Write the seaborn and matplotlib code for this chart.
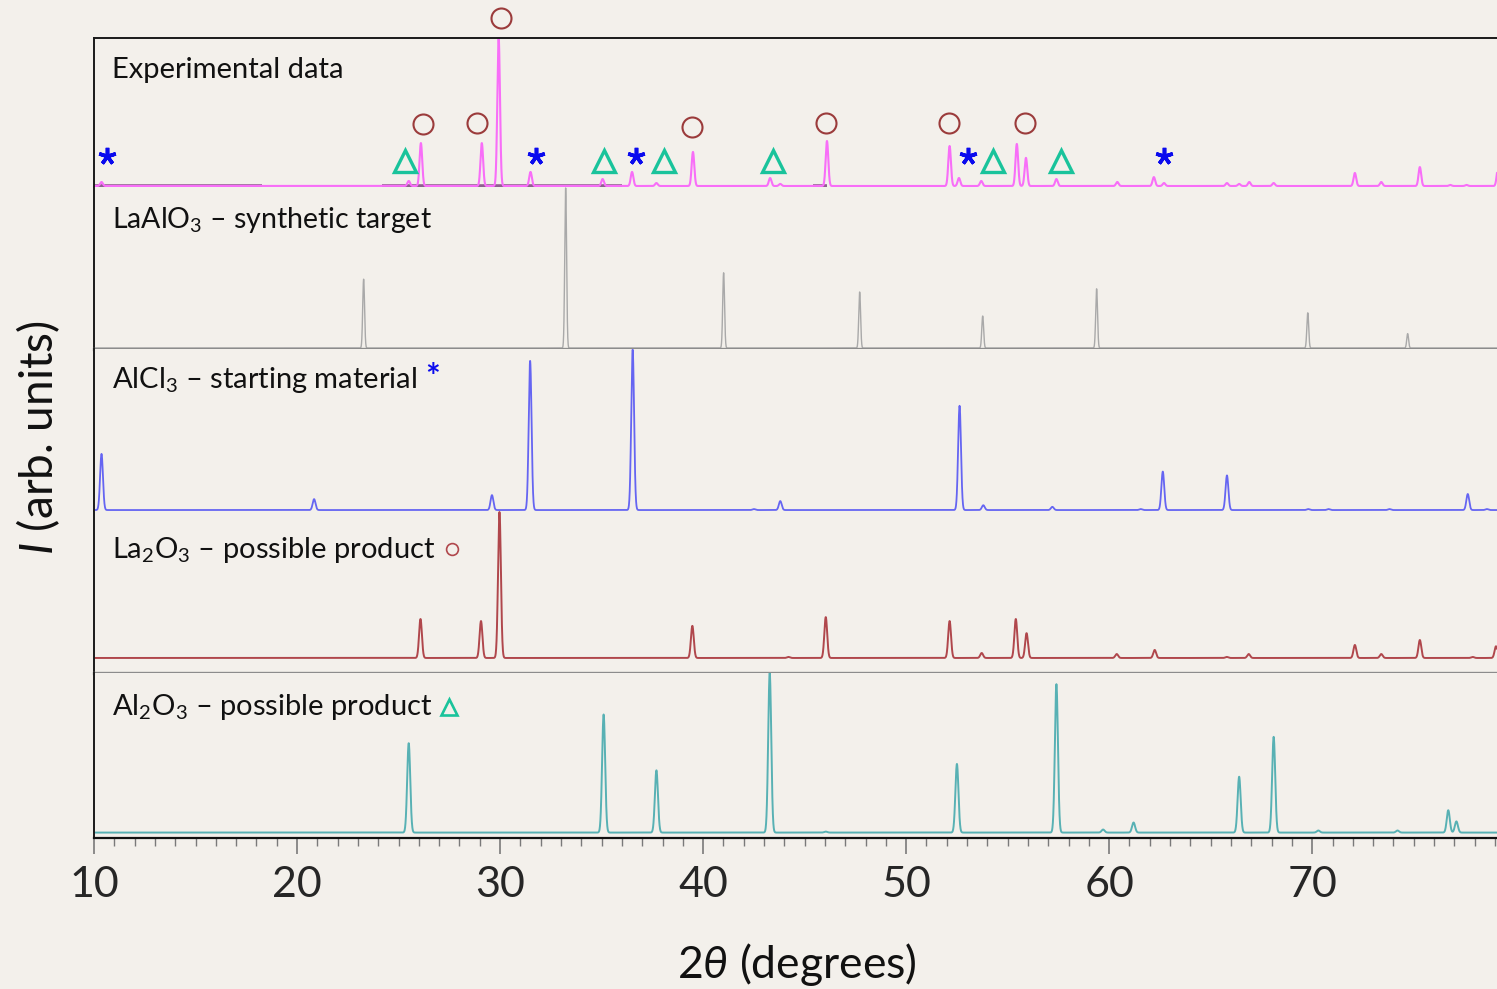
import numpy as np
import pandas as pd
import matplotlib
matplotlib.use("Agg")
import matplotlib.pyplot as plt
from matplotlib.ticker import MultipleLocator
import seaborn as sns

# ---------------- peak lists: 2θ position (deg) and relative intensity (%) ----------------
exp_pos = [10.37, 25.5, 26.1, 29.1, 29.93, 31.5, 35.05, 36.5, 37.7, 39.5, 43.3, 43.8,
           46.1, 52.14, 52.6, 53.7, 55.45, 55.9, 57.4, 60.4, 62.2, 62.7, 65.8, 66.4,
           66.9, 68.1, 72.1, 73.4, 75.3, 76.8, 77.6, 79.15]
exp_int = [2.7, 3.4, 29.0, 29.0, 100.0, 9.5, 4.7, 9.5, 2.0, 23.0, 5.4, 1.4,
           30.4, 27.0, 5.4, 3.4, 28.4, 19.0, 4.7, 2.7, 6.0, 2.0, 2.0, 1.4,
           2.7, 2.0, 8.8, 2.7, 12.8, 0.7, 0.7, 12.0]

lao_pos = [23.28, 33.23, 41.01, 47.71, 53.77, 59.38, 69.78, 74.7]
lao_int = [43.0, 100.0, 47.0, 35.0, 20.0, 37.0, 22.0, 9.0]

alcl_pos = [10.37, 20.84, 29.6, 31.48, 36.53, 42.5, 43.8, 52.63, 53.8, 57.2, 61.55,
            62.64, 65.8, 69.8, 70.8, 73.8, 77.66, 78.6]
alcl_int = [35.0, 6.8, 9.3, 93.0, 100.0, 0.6, 5.6, 65.0, 3.0, 2.0, 0.6,
            24.0, 21.6, 0.6, 0.6, 0.6, 10.0, 0.6]

la2o3_pos = [26.08, 29.06, 29.97, 39.47, 44.2, 46.04, 52.14, 53.72, 55.4, 55.93, 60.37,
             62.24, 65.79, 66.87, 72.1, 73.4, 75.3, 77.9, 79.05]
la2o3_int = [26.7, 25.3, 100.0, 22.0, 0.7, 28.0, 25.3, 3.4, 26.7, 17.0, 2.7,
             5.5, 0.7, 2.7, 8.9, 2.7, 12.3, 0.7, 8.0]

al2o3_pos = [25.5, 35.1, 37.7, 43.28, 46.04, 52.5, 57.4, 59.7, 61.2, 66.4, 68.1,
             70.3, 74.2, 76.7, 77.1]
al2o3_int = [56.0, 74.0, 39.0, 100.0, 0.6, 43.0, 93.0, 1.9, 6.3, 35.0, 60.0,
             1.3, 1.3, 14.0, 7.0]

# phase markers placed above the experimental peaks (2θ, height in exp-panel units)
circle_x = [26.18, 28.84, 30.07, 39.43, 46.03, 52.09, 55.84]
circle_y = [41.9, 42.6, 113.5, 39.9, 42.6, 42.6, 42.6]
star_x = [10.62, 31.75, 36.67, 53.03, 62.69]
star_y = [20.3, 20.3, 20.3, 20.3, 20.3]
tri_x = [25.30, 35.10, 38.05, 43.42, 54.30, 57.65]
tri_y = [16.9, 16.9, 16.9, 16.9, 16.9, 16.9]

# darker stretches of the measured baseline
exp_base_segments = [(10.0, 18.25), (24.2, 36.0), (45.4, 46.1)]

panel_labels = ["Experimental data",
                "LaAlO$_3$ – synthetic target",
                "AlCl$_3$ – starting material",
                "La$_2$O$_3$ – possible product",
                "Al$_2$O$_3$ – possible product"]

x_ticks = [10, 20, 30, 40, 50, 60, 70]

# ---------------- style ----------------
BG = "#f3f0eb"
sns.set_theme(style="white")
plt.rcParams["font.family"] = ["Lato", "DejaVu Sans"]
plt.rcParams["mathtext.fontset"] = "custom"
plt.rcParams["mathtext.rm"] = "Lato"
plt.rcParams["mathtext.it"] = "Lato:italic"
plt.rcParams["mathtext.bf"] = "Lato:bold"
plt.rcParams["mathtext.default"] = "regular"
plt.rcParams["mathtext.fallback"] = "stixsans"
plt.rcParams["axes.facecolor"] = BG
plt.rcParams["figure.facecolor"] = BG

grid = np.arange(10.0, 79.25, 0.005)


def profile(pos, inten, sigma):
    y = np.zeros_like(grid)
    for p, a in zip(pos, inten):
        y += a * np.exp(-0.5 * ((grid - p) / sigma) ** 2)
    return pd.DataFrame({"two_theta": grid, "intensity": y})


patterns = [
    (profile(exp_pos, exp_int, 0.065), "#f86ef8", 1.5),
    (profile(lao_pos, lao_int, 0.045), "#a9a9a9", 1.0),
    (profile(alcl_pos, alcl_int, 0.07), "#6565f2", 1.3),
    (profile(la2o3_pos, la2o3_int, 0.07), "#b0474c", 1.4),
    (profile(al2o3_pos, al2o3_int, 0.075), "#58b1b4", 1.4),
]

W, H = 1497, 989
fig = plt.figure(figsize=(W / 100, H / 100), dpi=100)
gs = fig.add_gridspec(5, 1, height_ratios=[149, 162, 162, 162, 165], hspace=0,
                      left=94 / W, right=1.0, top=1 - 38 / H, bottom=1 - 838 / H)
axes = [fig.add_subplot(gs[i]) for i in range(5)]

ylims = [(-0.68, 100.0), (-0.6, 100.6), (-0.6, 100.4), (-10.3, 100.7), (-3.4, 100.0)]

for ax, (df, col, lw), yl in zip(axes, patterns, ylims):
    ax.set_facecolor(BG)
    if ax is axes[0]:
        for a, b in exp_base_segments:
            ax.hlines(0, a, b, color="#8f5f8f", lw=2.6, zorder=1)
    sns.lineplot(data=df, x="two_theta", y="intensity", ax=ax, color=col, lw=lw,
                 estimator=None, errorbar=None, sort=False, zorder=2)
    ax.set_xlim(10, 79.1)
    ax.set_ylim(*yl)
    ax.set_xlabel("")
    ax.set_ylabel("")
    ax.set_yticks([])
    ax.grid(False)
    for s in ("top", "right", "bottom"):
        ax.spines[s].set_visible(False)
    ax.spines["left"].set_visible(True)
    ax.spines["left"].set_color("#1a1a1a")
    ax.spines["left"].set_linewidth(1.4)
    ax.tick_params(axis="x", which="both", bottom=False, labelbottom=False)

# outer frame
axes[0].spines["top"].set_visible(True)
axes[0].spines["top"].set_color("#1a1a1a")
axes[0].spines["top"].set_linewidth(1.4)
for i in (1, 3):
    axes[i].spines["bottom"].set_visible(True)
    axes[i].spines["bottom"].set_color("#8c8c8c")
    axes[i].spines["bottom"].set_linewidth(2.4)
axb = axes[4]
axb.spines["bottom"].set_visible(True)
axb.spines["bottom"].set_color("#111111")
axb.spines["bottom"].set_linewidth(1.6)
axb.set_xticks(x_ticks)
axb.set_xticklabels([str(t) for t in x_ticks])
axb.xaxis.set_minor_locator(MultipleLocator(1))
axb.tick_params(axis="x", which="both", bottom=True, labelbottom=True, direction="out",
                color="#7a7a7a")
axb.tick_params(axis="x", which="major", length=11.5, width=1.2, labelsize=31, pad=9)
axb.tick_params(axis="x", which="minor", length=6, width=1.0)

# phase markers over the measured pattern
ax0 = axes[0]
ax0.plot(circle_x, circle_y, ls="none", marker="o", ms=14.4, mfc="none", mec="#9b3b3b",
         mew=1.5, clip_on=False, zorder=5)
ax0.plot(star_x, star_y, ls="none", marker=(5, 2, 0), ms=12.5, mec="#0a0aee", mfc="#0a0aee",
         mew=2.6, clip_on=False, zorder=5)
ax0.plot(tri_x, tri_y, ls="none", marker="^", ms=16.5, mfc="none", mec="#19c39b",
         mew=2.4, clip_on=False, zorder=5)

# panel titles
label_y = [0.7315, 0.747, 0.759, 0.71, 0.745]
label_sizes = [21, 20.5, 21, 21, 21]
label_artists = []
for ax, txt, ly, fs in zip(axes, panel_labels, label_y, label_sizes):
    t = ax.text(18 / 1403, ly, txt, transform=ax.transAxes, fontsize=fs,
                ha="left", va="baseline", color="#111111")
    label_artists.append(t)

fig.canvas.draw()
renderer = fig.canvas.get_renderer()


def x_after(ax, artist, gap_px):
    bb = artist.get_window_extent(renderer)
    return ax.transAxes.inverted().transform((bb.x1 + gap_px, 0))[0]


# phase symbols after the reference-pattern titles
xa = x_after(axes[2], label_artists[2], 8)
axes[2].text(xa, label_y[2], "*", transform=axes[2].transAxes, fontsize=25,
             fontweight="bold", color="#0a0aee", ha="left", va="baseline")
xc = x_after(axes[3], label_artists[3], 17)
axes[3].plot([xc], [(673 - 549) / 162], transform=axes[3].transAxes, ls="none",
             marker="o", ms=8.5, mfc="none", mec="#b0474c", mew=1.2, clip_on=False)
xt = x_after(axes[4], label_artists[4], 16)
axes[4].plot([xt], [(838 - 706.5) / 165], transform=axes[4].transAxes, ls="none",
             marker="^", ms=12.0, mfc="none", mec="#19c39b", mew=1.9, clip_on=False)

# axis titles
fig.text(797 / W, 1 - 978 / H, "2$\\mathit{\\theta}$ (degrees)", ha="center", va="baseline",
         fontsize=32, color="#111111")
fig.text(38 / W, 1 - 438 / H, "$\\mathit{I}$ (arb. units)", ha="center", va="center",
         rotation=90, fontsize=33, color="#111111")

fig.savefig("out.png", dpi=100, facecolor=BG)
